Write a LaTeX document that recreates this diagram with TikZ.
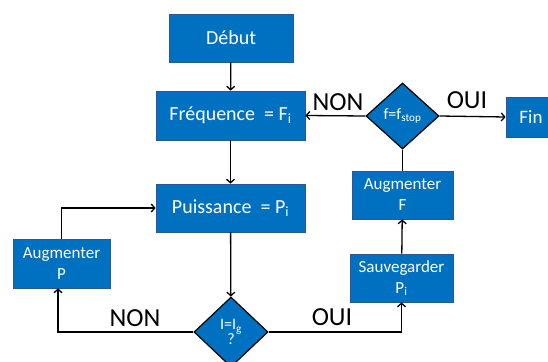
\documentclass[tikz,border=0pt]{standalone}
\usepackage{fontspec}
\setmainfont{Carlito}
\usetikzlibrary{arrows.meta,shapes.geometric}
\definecolor{boxblue}{HTML}{0070C0}
\definecolor{boxedge}{HTML}{2F5597}
\begin{document}
\begin{tikzpicture}[x=1pt,y=-1pt,
  box/.style={rectangle,fill=boxblue,draw=boxedge,line width=0.8pt,text=white,inner sep=0pt,align=center},
  bigbox/.style={box,font=\fontsize{20}{22}\selectfont},
  smallbox/.style={box,font=\fontsize{17}{21}\selectfont},
  decision/.style={diamond,fill=boxblue,draw=black,line width=1.2pt,text=white,inner sep=0pt,align=center,font=\fontsize{16}{19}\selectfont},
  lbl/.style={anchor=base,inner sep=0pt,font=\fontsize{26}{28}\selectfont},
  conn/.style={line width=1.3pt,draw=black},
  arr/.style={conn,-{Straight Barb[length=3.5pt,width=8pt]}}]
\useasboundingbox[fill=white] (0,0) rectangle (548,361);
\node[bigbox,minimum width=124pt,minimum height=48pt] (debut) at (231,38) {Début};
\node[bigbox,minimum width=149pt,minimum height=49pt] (freq) at (230.5,115.5) {Fréquence\ \ = F\textsubscript{i}};
\node[bigbox,minimum width=149pt,minimum height=48pt] (puis) at (230.5,208) {Puissance\ \ = P\textsubscript{i}};
\node[smallbox,minimum width=97pt,minimum height=49pt] (augP) at (61.5,263.5) {Augmenter\\P};
\node[decision,minimum width=74pt,minimum height=70pt] (dI) at (231,332) {I=I\textsubscript{g}\\[-4pt]?};
\node[smallbox,minimum width=103pt,minimum height=48pt] (sauv) at (401.5,278) {Sauvegarder\\P\textsubscript{i}};
\node[smallbox,minimum width=101pt,minimum height=48pt] (augF) at (402.5,195) {Augmenter\\F};
\node[decision,minimum width=73pt,minimum height=66pt] (dF) at (402.5,116) {f=f\textsubscript{stop}};
\node[bigbox,minimum width=54pt,minimum height=40pt,font=\fontsize{19}{22}\selectfont] (fin) at (533,117) {\hspace*{-4pt}Fin};
\coordinate (nonend) at ([xshift=-3.5pt]augP.south);
\draw[arr] (debut) -- (freq);
\draw[arr] (freq) -- (puis);
\draw[arr] (puis) -- (dI);
\draw[arr] (dI.west) -| (nonend);
\draw[arr] (augP.north) |- (puis.west);
\draw[arr] (dI.east) -| (sauv.south);
\draw[arr] (sauv) -- (augF);
\draw[conn] (augF) -- (dF);
\draw[arr] (dF.west) -- (freq.east);
\draw[arr] (dF.east) -- (fin.west);
\node[lbl] (non1) at (135,326) {NON};
\node[lbl] (oui1) at (332,325) {OUI};
\node[lbl] (non2) at (338,110) {NON};
\node[lbl] (oui2) at (467,108) {OUI};
\end{tikzpicture}
\end{document}
